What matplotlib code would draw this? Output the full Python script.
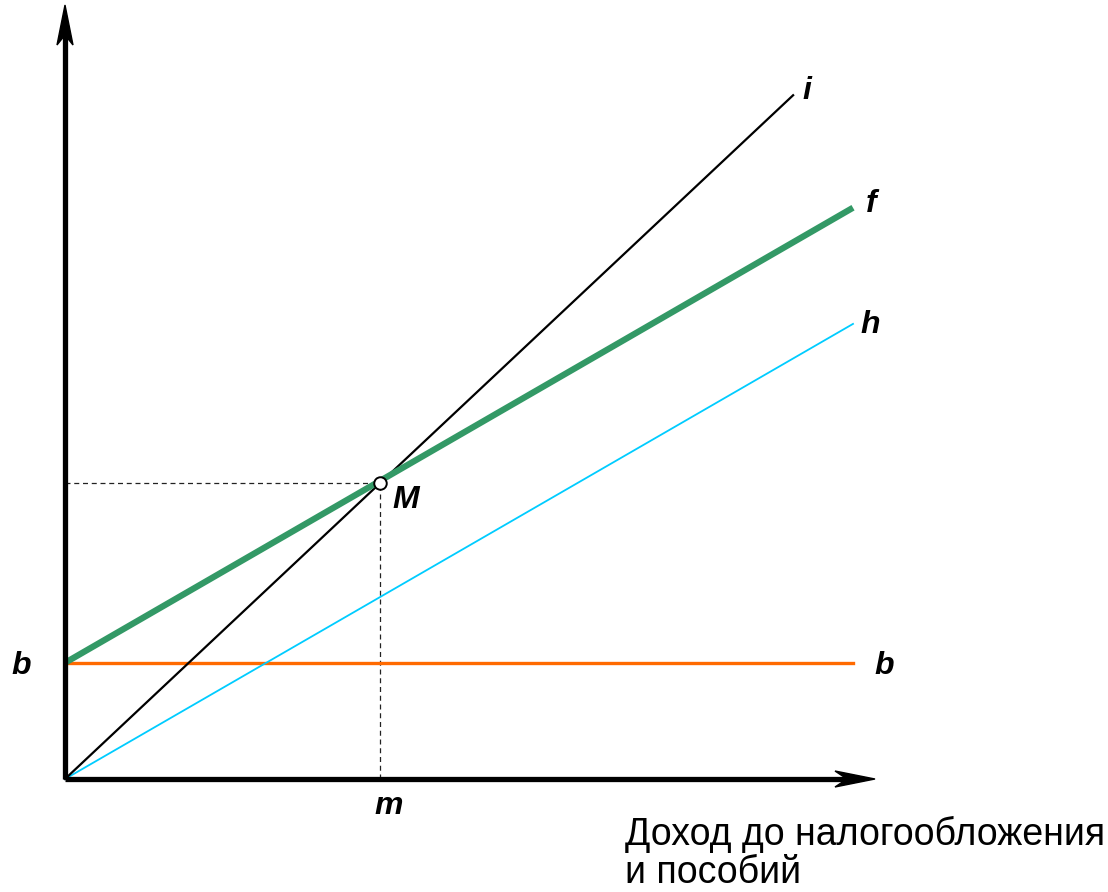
import matplotlib.pyplot as plt
from matplotlib.patches import Polygon

#=======================================
# Data
#=======================================
income = [0.0, 10.0]           # pre-tax income range for f, h, b
income_i = [0.0, 9.24]         # the 45-degree line stops a bit earlier
line_i = [0.0, 9.24]
line_f = [1.57, 7.72]
line_h = [0.0, 6.15]
line_b = [1.57, 1.57]
point_m = (4.0, 4.0)

label_font = ["Liberation Sans", "DejaVu Sans"]

#=======================================
# Figure
#=======================================
fig = plt.figure(figsize=(11.08, 8.92), dpi=100)
ax = fig.add_axes([0, 0, 1, 1])
px_x, px_y = 78.8, 74.0   # pixels per unit
ax.set_xlim(-65 / px_x, (1108 - 65) / px_x)
ax.set_ylim(-(892 - 779) / px_y, 779 / px_y)
ax.axis("off")

# axes with arrow heads
x_end = (875 - 65) / px_x
y_end = (779 - 5) / px_y
ax.plot([0, x_end - 0.3], [0, 0], color="black", lw=3.8, solid_capstyle="butt", zorder=5)
ax.plot([0, 0], [0, y_end - 0.3], color="black", lw=3.8, solid_capstyle="butt", zorder=5)
ax.add_patch(Polygon([(x_end, 0), (x_end - 40 / px_x, 8 / px_y), (x_end - 28 / px_x, 0),
                      (x_end - 40 / px_x, -8 / px_y)], closed=True, color="black", zorder=6))
ax.add_patch(Polygon([(0, y_end), (8 / px_x, y_end - 40 / px_y), (0, y_end - 30 / px_y),
                      (-8 / px_x, y_end - 40 / px_y)], closed=True, color="black", zorder=6))

# lines
ax.plot(income, line_b, color="#ff6a00", lw=2.4, zorder=2)
ax.plot(income, line_h, color="#00ccff", lw=1.3, zorder=2)
ax.plot(income_i, line_i, color="black", lw=1.6, zorder=3)
ax.plot(income, line_f, color="#339966", lw=4.5, solid_capstyle="butt", zorder=4)

# dashed guides to M
ax.plot([0, point_m[0]], [point_m[1], point_m[1]], color="#222222", lw=0.9, ls=(0, (4, 3)), zorder=1)
ax.plot([point_m[0], point_m[0]], [0, point_m[1]], color="#222222", lw=0.9, ls=(0, (4, 3)), zorder=1)
ax.plot([point_m[0]], [point_m[1]], marker="o", ms=9, mfc="white", mec="black", mew=1.4, zorder=7)

# labels
lab = dict(fontsize=23, fontweight="bold", fontstyle="italic", family=label_font,
           ha="center", va="center")
ax.text(9.42, 9.30, "i", **lab)
ax.text(10.23, 7.77, "f", **lab)
ax.text(10.22, 6.14, "h", **lab)
ax.text(10.39, 1.53, "b", **lab)
ax.text(-0.55, 1.53, "b", **lab)
ax.text(4.32, 3.77, "M", **lab)
ax.text(4.11, -0.37, "m", **lab)

ax.text(7.11, -0.89, "Доход до налогообложения", fontsize=27, family=label_font,
        ha="left", va="baseline")
ax.text(7.11, -1.41, "и пособий", fontsize=27, family=label_font,
        ha="left", va="baseline")

fig.savefig("out.png", dpi=100)
